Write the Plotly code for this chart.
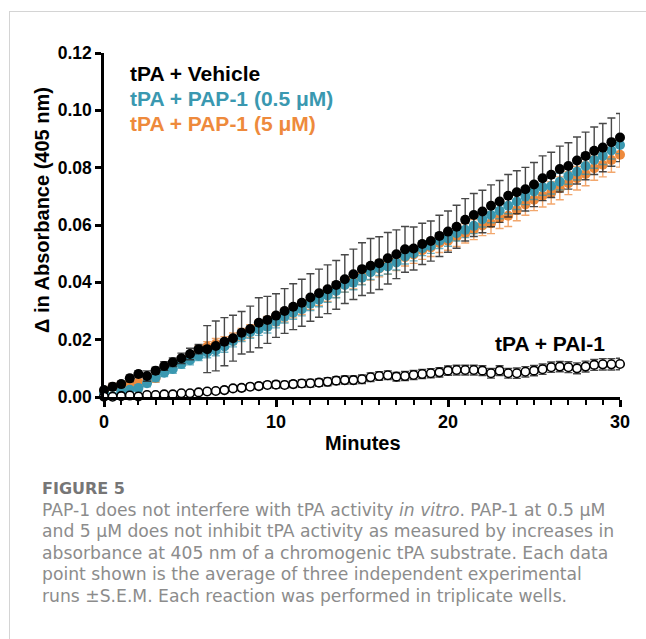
import plotly.graph_objects as go

# ---------------- data ----------------
minutes = [0, 0.5, 1, 1.5, 2, 2.5, 3, 3.5, 4, 4.5,
           5, 5.5, 6, 6.5, 7, 7.5, 8, 8.5, 9, 9.5,
           10, 10.5, 11, 11.5, 12, 12.5, 13, 13.5, 14, 14.5,
           15, 15.5, 16, 16.5, 17, 17.5, 18, 18.5, 19, 19.5,
           20, 20.5, 21, 21.5, 22, 22.5, 23, 23.5, 24, 24.5,
           25, 25.5, 26, 26.5, 27, 27.5, 28, 28.5, 29, 29.5,
           30]

vehicle = [0.0024, 0.0036, 0.0045, 0.0065, 0.0080, 0.0073, 0.0092, 0.0108, 0.0121, 0.0135,
           0.0150, 0.0167, 0.0167, 0.0178, 0.0193, 0.0205, 0.0224, 0.0237, 0.0259, 0.0269,
           0.0284, 0.0300, 0.0315, 0.0329, 0.0347, 0.0362, 0.0376, 0.0391, 0.0411, 0.0428,
           0.0446, 0.0458, 0.0467, 0.0484, 0.0498, 0.0515, 0.0518, 0.0534, 0.0544, 0.0562,
           0.0577, 0.0594, 0.0618, 0.0635, 0.0647, 0.0667, 0.0682, 0.0702, 0.0714, 0.0725,
           0.0741, 0.0763, 0.0775, 0.0795, 0.0806, 0.0825, 0.0841, 0.0859, 0.0870, 0.0889,
           0.0905]
vehicle_sem = [0.0008, 0.0012, 0.0010, 0.0012, 0.0012, 0.0018, 0.0012, 0.0015, 0.0015, 0.0018,
               0.0020, 0.0016, 0.0082, 0.0087, 0.0084, 0.0080, 0.0074, 0.0080, 0.0087, 0.0082,
               0.0076, 0.0078, 0.0080, 0.0082, 0.0083, 0.0084, 0.0085, 0.0085, 0.0085, 0.0088,
               0.0092, 0.0095, 0.0092, 0.0090, 0.0085, 0.0080, 0.0075, 0.0072, 0.0070, 0.0072,
               0.0072, 0.0075, 0.0074, 0.0075, 0.0074, 0.0073, 0.0073, 0.0074, 0.0075, 0.0076,
               0.0077, 0.0078, 0.0079, 0.0080, 0.0081, 0.0082, 0.0083, 0.0083, 0.0084, 0.0084,
               0.0084]

pap_05 = [0.0012, 0.0003, 0.0018, 0.0025, 0.0031, 0.0048, 0.0068, 0.0085, 0.0098, 0.0115,
          0.0128, 0.0143, 0.0155, 0.0162, 0.0176, 0.0195, 0.0213, 0.0226, 0.0236, 0.0245,
          0.0263, 0.0280, 0.0294, 0.0306, 0.0325, 0.0339, 0.0354, 0.0370, 0.0391, 0.0399,
          0.0416, 0.0435, 0.0449, 0.0455, 0.0469, 0.0490, 0.0501, 0.0519, 0.0527, 0.0545,
          0.0553, 0.0571, 0.0583, 0.0597, 0.0620, 0.0635, 0.0650, 0.0667, 0.0682, 0.0699,
          0.0717, 0.0732, 0.0736, 0.0751, 0.0771, 0.0786, 0.0806, 0.0827, 0.0841, 0.0860,
          0.0879]
pap_05_sem = [0.0006, 0.0008, 0.0010, 0.0010, 0.0012, 0.0012, 0.0014, 0.0014, 0.0015, 0.0015,
              0.0016, 0.0016, 0.0018, 0.0018, 0.0020, 0.0020, 0.0020, 0.0021, 0.0021, 0.0022,
              0.0022, 0.0022, 0.0023, 0.0023, 0.0023, 0.0024, 0.0024, 0.0024, 0.0025, 0.0025,
              0.0025, 0.0025, 0.0025, 0.0026, 0.0026, 0.0026, 0.0026, 0.0026, 0.0026, 0.0027,
              0.0027, 0.0027, 0.0027, 0.0027, 0.0027, 0.0027, 0.0028, 0.0028, 0.0028, 0.0028,
              0.0028, 0.0028, 0.0028, 0.0029, 0.0029, 0.0029, 0.0029, 0.0029, 0.0030, 0.0030,
              0.0030]

pap_5 = [0.0020, 0.0035, 0.0042, 0.0048, 0.0049, 0.0055, 0.0066, 0.0095, 0.0112, 0.0125,
         0.0140, 0.0160, 0.0175, 0.0185, 0.0190, 0.0203, 0.0218, 0.0230, 0.0248, 0.0258,
         0.0272, 0.0286, 0.0300, 0.0313, 0.0330, 0.0345, 0.0359, 0.0374, 0.0393, 0.0405,
         0.0421, 0.0437, 0.0448, 0.0458, 0.0471, 0.0488, 0.0497, 0.0512, 0.0522, 0.0537,
         0.0545, 0.0559, 0.0571, 0.0584, 0.0598, 0.0606, 0.0624, 0.0632, 0.0652, 0.0672,
         0.0688, 0.0702, 0.0712, 0.0728, 0.0746, 0.0763, 0.0778, 0.0798, 0.0810, 0.0827,
         0.0845]
pap_5_sem = [0.0010, 0.0012, 0.0012, 0.0014, 0.0014, 0.0015, 0.0015, 0.0016, 0.0016, 0.0017,
             0.0017, 0.0018, 0.0018, 0.0019, 0.0020, 0.0020, 0.0021, 0.0022, 0.0022, 0.0023,
             0.0023, 0.0024, 0.0024, 0.0025, 0.0025, 0.0026, 0.0026, 0.0027, 0.0027, 0.0028,
             0.0028, 0.0029, 0.0029, 0.0030, 0.0030, 0.0031, 0.0031, 0.0032, 0.0032, 0.0033,
             0.0033, 0.0034, 0.0034, 0.0035, 0.0035, 0.0036, 0.0036, 0.0037, 0.0037, 0.0038,
             0.0038, 0.0039, 0.0039, 0.0040, 0.0040, 0.0041, 0.0041, 0.0042, 0.0042, 0.0043,
             0.0043]

pai1 = [0.0001, 0.0001, 0.0003, 0.0005, 0.0002, 0.0007, 0.0007, 0.0009, 0.0009, 0.0013,
        0.0013, 0.0016, 0.0019, 0.0021, 0.0024, 0.0030, 0.0032, 0.0036, 0.0038, 0.0042,
        0.0043, 0.0042, 0.0045, 0.0047, 0.0048, 0.0050, 0.0053, 0.0057, 0.0059, 0.0059,
        0.0062, 0.0069, 0.0073, 0.0076, 0.0071, 0.0073, 0.0077, 0.0080, 0.0083, 0.0086,
        0.0092, 0.0094, 0.0094, 0.0094, 0.0092, 0.0083, 0.0092, 0.0083, 0.0083, 0.0088,
        0.0092, 0.0097, 0.0104, 0.0106, 0.0104, 0.0100, 0.0106, 0.0112, 0.0114, 0.0114,
        0.0115]
pai1_sem = [0.0003, 0.0003, 0.0004, 0.0004, 0.0004, 0.0005, 0.0005, 0.0005, 0.0006, 0.0006,
            0.0007, 0.0007, 0.0008, 0.0008, 0.0009, 0.0009, 0.0010, 0.0010, 0.0011, 0.0011,
            0.0012, 0.0012, 0.0012, 0.0013, 0.0013, 0.0013, 0.0014, 0.0014, 0.0014, 0.0014,
            0.0015, 0.0015, 0.0015, 0.0015, 0.0015, 0.0016, 0.0016, 0.0016, 0.0016, 0.0016,
            0.0016, 0.0017, 0.0017, 0.0017, 0.0017, 0.0017, 0.0017, 0.0017, 0.0018, 0.0018,
            0.0018, 0.0018, 0.0018, 0.0018, 0.0019, 0.0019, 0.0019, 0.0019, 0.0020, 0.0020,
            0.0020]

series_names = ["tPA + Vehicle", "tPA + PAP-1 (0.5 μM)", "tPA + PAP-1 (5 μM)", "tPA + PAI-1"]
x_ticks = [0, 10, 20, 30]
y_ticks = [0.00, 0.02, 0.04, 0.06, 0.08, 0.10, 0.12]

caption_title = "FIGURE 5"
caption_lines = [
    "PAP-1 does not interfere with tPA activity <i>in vitro</i>. PAP-1 at 0.5 μM",
    "and 5 μM does not inhibit tPA activity as measured by increases in",
    "absorbance at 405 nm of a chromogenic tPA substrate. Each data",
    "point shown is the average of three independent experimental",
    "runs ±S.E.M. Each reaction was performed in triplicate wells.",
]

# ---------------- styling / layout ----------------
W, H = 646, 639
L, R, T, B = 104, 26, 53, 242
PW, PH = W - L - R, H - T - B

def px(x):
    return (x - L) / PW

def py(y):
    return (H - B - y) / PH

BOLD = "Liberation Sans, Arial, sans-serif"
CAP = "DejaVu Sans, sans-serif"
TEAL = "#3A98B0"
ORANGE = "#EE8A3C"

fig = go.Figure()

def add_series(y, err, color, ecolor, name, open_marker=False, size=10):
    fig.add_trace(go.Scatter(
        x=minutes, y=y, mode="markers", name=name,
        marker=dict(size=size, color="white" if open_marker else color,
                    symbol="circle",
                    line=dict(color=color, width=1.6 if open_marker else 0)),
        error_y=dict(type="data", array=err, visible=True, color=ecolor,
                     thickness=1.4, width=4),
        cliponaxis=False, showlegend=False,
    ))

add_series(pap_5, pap_5_sem, ORANGE, "rgba(238,138,60,0.75)", series_names[2])
add_series(pap_05, pap_05_sem, TEAL, "rgba(58,152,176,0.75)", series_names[1])
add_series(vehicle, vehicle_sem, "#000000", "rgba(40,40,40,0.85)", series_names[0])
add_series(pai1, pai1_sem, "#000000", "rgba(40,40,40,0.85)", series_names[3],
           open_marker=True, size=8.5)

fig.update_xaxes(
    range=[0, 30], tickvals=x_ticks, ticktext=[str(v) for v in x_ticks],
    showline=True, linecolor="black", linewidth=2.5, ticks="outside",
    ticklen=7, tickwidth=2.5, tickcolor="black", showgrid=False, zeroline=False,
    tickfont=dict(family=BOLD, size=18, color="black", weight="bold"),
    minor=dict(dtick=1, ticks="outside", ticklen=5, tickwidth=2, tickcolor="black"),
)
fig.update_yaxes(
    range=[0, 0.12], tickvals=y_ticks, ticktext=[f"{v:.2f}" for v in y_ticks],
    showline=True, linecolor="black", linewidth=2.5, ticks="outside",
    ticklen=6, tickwidth=2.5, tickcolor="black", showgrid=False, zeroline=False,
    tickfont=dict(family=BOLD, size=17.5, color="black", weight="bold"),
)

ann = []
# legend-like labels
legend_items = [(series_names[0], "#000000", 73), (series_names[1], TEAL, 98),
                (series_names[2], ORANGE, 123)]
for text, col, yy in legend_items:
    ann.append(dict(text=f"<b>{text}</b>", x=px(128), y=py(yy), xref="paper", yref="paper",
                    xanchor="left", yanchor="middle", showarrow=False,
                    font=dict(family=BOLD, size=21, color=col)))
ann.append(dict(text=f"<b>{series_names[3]}</b>", x=px(493), y=py(343), xref="paper", yref="paper",
                xanchor="left", yanchor="middle", showarrow=False,
                font=dict(family=BOLD, size=21, color="black")))
# axis titles
ann.append(dict(text="<b>Minutes</b>", x=px(363), y=py(443), xref="paper", yref="paper",
                xanchor="center", yanchor="middle", showarrow=False,
                font=dict(family=BOLD, size=20, color="black")))
ann.append(dict(text="<b>Δ in Absorbance (405 nm)</b>", x=px(42), y=py(210), xref="paper",
                yref="paper", xanchor="center", yanchor="middle", showarrow=False,
                textangle=-90, font=dict(family=BOLD, size=20, color="black")))
# caption
ann.append(dict(text=caption_title, x=px(40), y=py(488), xref="paper", yref="paper",
                xanchor="left", yanchor="middle", showarrow=False,
                font=dict(family=CAP, size=16, color="#767676", weight="bold")))
for i, line in enumerate(caption_lines):
    ann.append(dict(text=line, x=px(40), y=py(510 + i * 21.4), xref="paper", yref="paper",
                    xanchor="left", yanchor="middle", showarrow=False,
                    font=dict(family=CAP, size=17.2, color="#8c8c8c")))

shapes = [
    dict(type="line", xref="paper", yref="paper", x0=px(9), x1=px(646), y0=py(11.5), y1=py(11.5),
         line=dict(color="#d4d4d4", width=1)),
    dict(type="line", xref="paper", yref="paper", x0=px(9.5), x1=px(9.5), y0=py(11), y1=py(639),
         line=dict(color="#d4d4d4", width=1)),
]

fig.update_layout(
    width=W, height=H, margin=dict(l=L, r=R, t=T, b=B, pad=0),
    paper_bgcolor="white", plot_bgcolor="white",
    annotations=ann, shapes=shapes, showlegend=False,
)

fig.write_html("out.html")
